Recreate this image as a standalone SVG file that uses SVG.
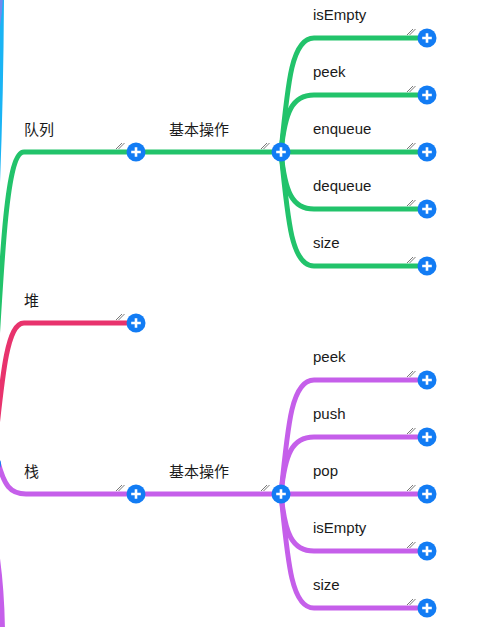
<svg xmlns="http://www.w3.org/2000/svg" xmlns:xlink="http://www.w3.org/1999/xlink" width="493" height="627" viewBox="0 0 493 627">
<style>
.lbl{font-family:"Liberation Sans","Noto Sans CJK SC",sans-serif;font-size:15px;fill:#1a1a1a}
.ln{fill:none;stroke-width:5;stroke-linecap:butt}
.g{stroke:#22c36b}.p{stroke:#e8336d}.v{stroke:#c55fea}.c{stroke:#1ab4f4}
.hatch{stroke:#555;stroke-width:0.8;fill:none}
</style>
<defs>
<g id="btn"><circle r="9.5" fill="#127cf4"/><path d="M-4.8 0H4.8M0 -4.8V4.8" stroke="#fff" stroke-width="2.6" fill="none"/></g>
<g id="hat"><path class="hatch" d="M-20 -3L-14 -9M-17.5 -3L-11.5 -9"/></g>
</defs>
<rect width="493" height="627" fill="#fff"/>
<g id="connectors">
<path class="ln c" d="M-3 195 Q1 100 1.5 -5"/>
<path class="ln v" d="M-3 30 Q0 12 0.5 -5" stroke-opacity="0.5"/>
<path class="ln v" d="M-3 555 Q2 590 2.5 632"/>
<path class="ln g" d="M-10 465 C2 250 6 152 24 152 H281 H427"/>
<path class="ln p" d="M-7 465 C2 380 6 323 24 323 H136"/>
<path class="ln v" d="M-2 462 C4 485 10 494 26 494 H427"/>
<path class="ln g" d="M281 152 C288 80 292 38 314 38 H427"/>
<path class="ln g" d="M281 152 C285 112 292 95 314 95 H427"/>
<path class="ln g" d="M281 152 C285 192 292 209 314 209 H427"/>
<path class="ln g" d="M281 152 C288 224 292 266 314 266 H427"/>
<path class="ln v" d="M281 494 C288 422 292 380 314 380 H427"/>
<path class="ln v" d="M281 494 C285 454 292 437 314 437 H427"/>
<path class="ln v" d="M281 494 C285 534 292 551 314 551 H427"/>
<path class="ln v" d="M281 494 C288 566 292 608 314 608 H427"/>
<circle cx="-7" cy="464" r="8" fill="#127cf4"/>
</g>
<g id="node-queue"><text class="lbl" x="24" y="135">队列</text><use xlink:href="#hat" x="136" y="152"/><use xlink:href="#btn" x="136" y="152"/></g>
<g id="node-queue-ops"><text class="lbl" x="169" y="135">基本操作</text><use xlink:href="#hat" x="281" y="152"/><use xlink:href="#btn" x="281" y="152"/></g>
<g id="node-q-isEmpty"><text class="lbl" x="313" y="20">isEmpty</text><use xlink:href="#hat" x="427" y="38"/><use xlink:href="#btn" x="427" y="38"/></g>
<g id="node-q-peek"><text class="lbl" x="313" y="77">peek</text><use xlink:href="#hat" x="427" y="95"/><use xlink:href="#btn" x="427" y="95"/></g>
<g id="node-q-enqueue"><text class="lbl" x="313" y="134">enqueue</text><use xlink:href="#hat" x="427" y="152"/><use xlink:href="#btn" x="427" y="152"/></g>
<g id="node-q-dequeue"><text class="lbl" x="313" y="191">dequeue</text><use xlink:href="#hat" x="427" y="209"/><use xlink:href="#btn" x="427" y="209"/></g>
<g id="node-q-size"><text class="lbl" x="313" y="248">size</text><use xlink:href="#hat" x="427" y="266"/><use xlink:href="#btn" x="427" y="266"/></g>
<g id="node-heap"><text class="lbl" x="24" y="306">堆</text><use xlink:href="#hat" x="136" y="323"/><use xlink:href="#btn" x="136" y="323"/></g>
<g id="node-stack"><text class="lbl" x="24" y="477">栈</text><use xlink:href="#hat" x="136" y="494"/><use xlink:href="#btn" x="136" y="494"/></g>
<g id="node-stack-ops"><text class="lbl" x="169" y="477">基本操作</text><use xlink:href="#hat" x="281" y="494"/><use xlink:href="#btn" x="281" y="494"/></g>
<g id="node-s-peek"><text class="lbl" x="313" y="362">peek</text><use xlink:href="#hat" x="427" y="380"/><use xlink:href="#btn" x="427" y="380"/></g>
<g id="node-s-push"><text class="lbl" x="313" y="419">push</text><use xlink:href="#hat" x="427" y="437"/><use xlink:href="#btn" x="427" y="437"/></g>
<g id="node-s-pop"><text class="lbl" x="313" y="476">pop</text><use xlink:href="#hat" x="427" y="494"/><use xlink:href="#btn" x="427" y="494"/></g>
<g id="node-s-isEmpty"><text class="lbl" x="313" y="533">isEmpty</text><use xlink:href="#hat" x="427" y="551"/><use xlink:href="#btn" x="427" y="551"/></g>
<g id="node-s-size"><text class="lbl" x="313" y="590">size</text><use xlink:href="#hat" x="427" y="608"/><use xlink:href="#btn" x="427" y="608"/></g>
</svg>
